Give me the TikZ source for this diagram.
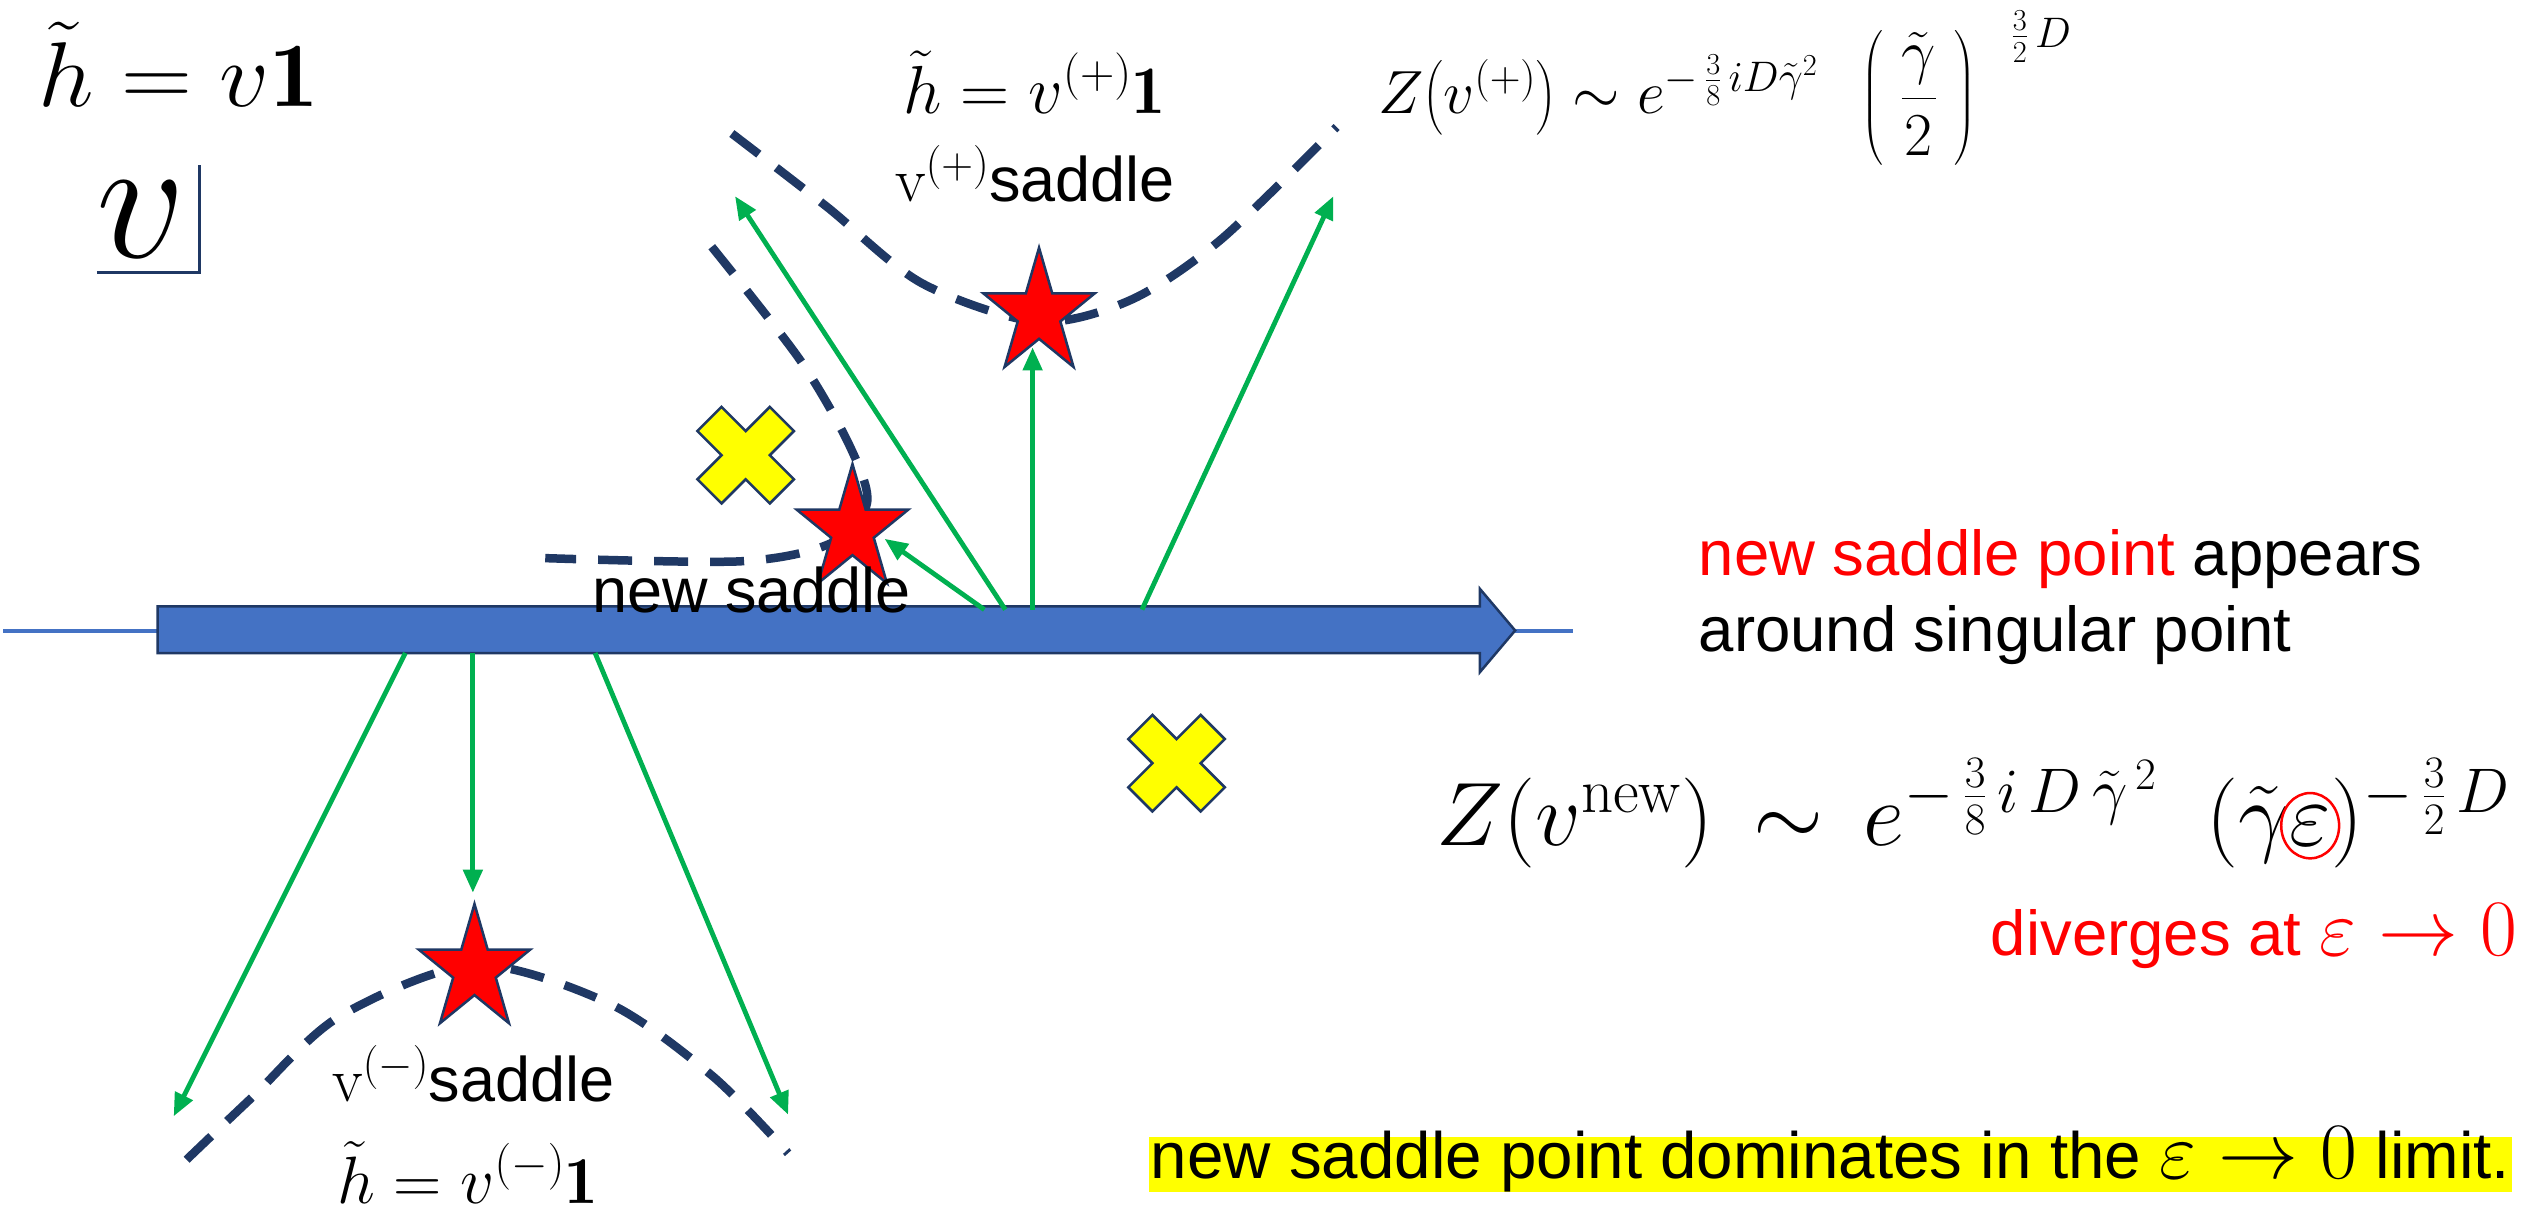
\RequirePackage{fix-cm}
\documentclass[tikz,border=0pt]{standalone}
\usepackage{amsmath}
\usepackage{fontspec}
\newfontfamily\arialf{Liberation Sans}
\usetikzlibrary{arrows.meta}
\definecolor{navy}{RGB}{31,56,100}
\definecolor{sgreen}{RGB}{0,176,80}
\definecolor{ablue}{RGB}{68,114,196}
\definecolor{sred}{RGB}{255,0,0}
\definecolor{syellow}{RGB}{255,255,0}
\newcommand\fs[1]{\fontsize{#1}{#1}\selectfont}
\begin{document}
\begin{tikzpicture}[x=1.6084pt,y=1.6084pt,
  dashcurve/.style={draw=navy, line width=8.5pt, dash pattern=on 34pt off 22pt},
  garrow/.style={draw=sgreen, line width=4.8pt, -{Triangle[length=23pt,width=19pt]}},
  starsty/.style={fill=sred, draw=navy, line width=2.5pt},
  crosssty/.style={fill=syellow, draw=navy, line width=2.5pt},
  txt/.style={inner sep=0pt, anchor=base west}]
\useasboundingbox (0,0) rectangle (1568,-753);

% axis
\coordinate (axL) at (2,-392);
\coordinate (axR) at (978,-392);
\draw[ablue, line width=4pt] (axL) -- (axR);
\filldraw[fill=ablue, draw=navy, line width=2.5pt]
  (98,-377) -- (920,-377) -- (920,-366) -- (942,-392) -- (920,-418) -- (920,-406) -- (98,-406) -- cycle;

% dashed curves
\draw[dashcurve] plot[smooth] coordinates {(455,-83) (514,-128.5) (573,-176) (645,-200) (703,-186.5) (759,-149) (831,-79)};
\draw[dashcurve] plot[smooth] coordinates {(442.5,-153.4) (497.4,-223.8) (528.5,-277.7) (539,-313) (516,-338) (460,-349) (339,-347)};
\draw[dashcurve] plot[smooth] coordinates {(116,-721) (157,-682) (211,-632) (295,-600) (379,-624) (443,-669) (490,-717)};

% crosses
\coordinate (x1) at (463.6,-283);
\coordinate (x2) at (731.5,-474.5);
\foreach \c in {x1,x2}{
\filldraw[crosssty, shift={(\c)}] (0,15) -- (15,30) -- (30,15) -- (15,0) -- (30,-15) -- (15,-30) -- (0,-15) -- (-15,-30) -- (-30,-15) -- (-15,0) -- (-30,15) -- (-15,30) -- cycle;
}

% stars
\coordinate (sp) at (646,-195);
\coordinate (sn) at (530,-329.5);
\coordinate (sm) at (295,-603);
\foreach \c in {sp,sn,sm}{
\filldraw[starsty, shift={(\c)}] (0,41) \foreach \k in {1,...,9}{ -- ({(25.22+11.28*cos(180*\k))*cos(90+36*\k)},{(28.33+12.67*cos(180*\k))*sin(90+36*\k)}) } -- cycle;
}

% green arrows
\coordinate (a1s) at (625,-379); \coordinate (a1t) at (457,-122);
\coordinate (a2s) at (612,-379); \coordinate (a2t) at (550,-335);
\coordinate (a3s) at (642,-379); \coordinate (a3t) at (642,-216);
\coordinate (a4s) at (710,-379); \coordinate (a4t) at (829,-122);
\coordinate (b1s) at (252,-406); \coordinate (b1t) at (108,-694);
\coordinate (b2s) at (294,-406); \coordinate (b2t) at (294,-555);
\coordinate (b3s) at (370,-406); \coordinate (b3t) at (490,-693);
\foreach \s/\t in {a1s/a1t,a2s/a2t,a3s/a3t,a4s/a4t,b1s/b1t,b2s/b2t,b3s/b3t}{
  \draw[garrow] (\s) -- (\t);
}

% texts
\node[txt] (hv) at (24,-66.5) {\scalebox{1.07}[1]{\fs{92}$\tilde h = v\mathbf{1}$}};
\node[txt] (bigv) at (60,-160.4) {\fs{176}$v$};
\coordinate (ul1) at (60.3,-169.7);
\coordinate (ul2) at (124.3,-169.7);
\coordinate (ul3) at (124.3,-102.6);
\draw[navy, line width=3pt] (ul1) -- (ul2) -- (ul3);

\node[txt] (hp) at (561.6,-70.5) {\fs{68}$\tilde h = v^{(+)}\mathbf{1}$};
\node[txt] (sadp) at (556.5,-125.4) {\fs{63}$\mathrm{v}^{(+)}$\arialf saddle};
\node[txt] (zp) at (857,-70.5) {\fs{61}$Z\!\left(v^{(+)}\right)\sim e^{-\,\frac{3}{8}\,iD\tilde\gamma^{2}}\;\;\left(\vcenter{\hrule height 125pt width 0pt}\;\dfrac{\tilde\gamma}{2}\;\right)^{\;\;\;\frac{3}{2}\,D}$};

\node[txt] (news) at (368,-381) {\fs{63}\arialf new saddle};

\node[txt] (sadm) at (206.5,-685) {\fs{63}$\mathrm{v}^{(-)}$\arialf saddle};
\node[txt] (hm) at (209.6,-748) {\fs{67}$\tilde h = v^{(-)}\mathbf{1}$};

\node[txt] (app1) at (1056,-357.5) {\fs{63.5}\arialf\textcolor{sred}{new saddle point} appears};
\node[txt] (app2) at (1056,-405) {\fs{63.5}\arialf around singular point};

\node[txt] (zn1) at (893,-525.4) {\fs{90}$Z(v^{\mathrm{new}})\,\sim\,e^{-\,\frac{3}{8}\,i\,D\,\tilde\gamma^{\,2}}\;\;(\tilde\gamma$};
\node[txt] (eps) at (zn1.base east) {\fs{90}$\varepsilon$};
\node[txt] (zn2) at (eps.base east) {\fs{90}$)^{-\,\frac{3}{2}\,D}$};
\draw[sred, line width=2.5pt] (eps.center) ellipse [x radius=18, y radius=20.3];

\node[inner sep=0pt, anchor=base east, text=sred] (div) at (1565,-593.8) {\fs{63.5}\arialf diverges at \fs{80}$\varepsilon\to0$};

\node[inner xsep=2pt, inner ysep=0pt, text height=42pt, text depth=13pt, fill=syellow, anchor=base east] (dom) at (1562,-733)
  {\fs{65.5}\arialf new saddle point dominates in the \fs{80}$\varepsilon\to0$\fs{65.5} limit.};
\end{tikzpicture}
\end{document}
